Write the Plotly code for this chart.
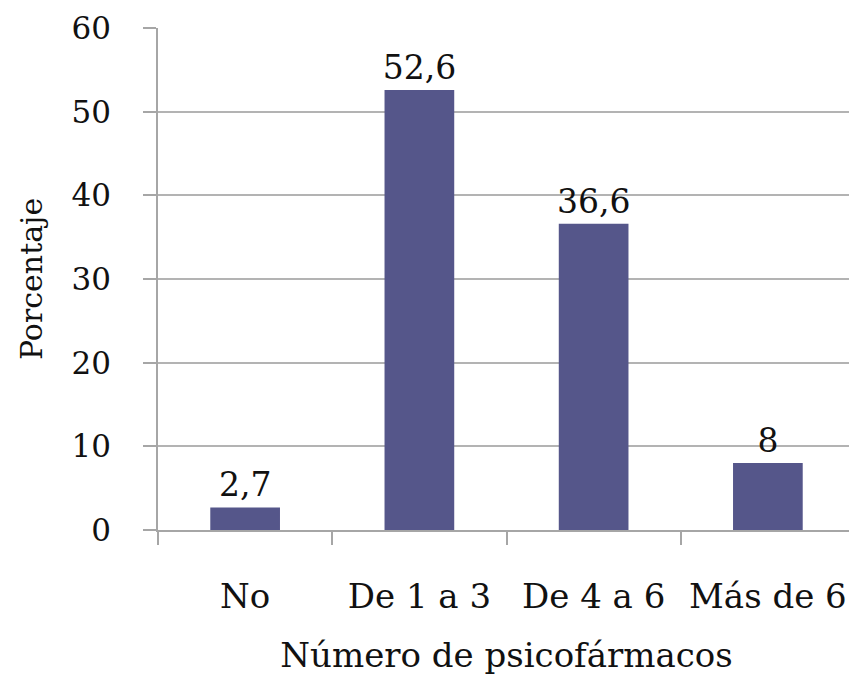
import plotly.graph_objects as go

categories = ["No", "De 1 a 3", "De 4 a 6", "Más de 6"]
values = [2.7, 52.6, 36.6, 8]
y_ticks = [0, 10, 20, 30, 40, 50, 60]

def fmt(v):
    s = ("%g" % v)
    return s.replace(".", ",")

labels = [fmt(v) for v in values]

FONT = "DejaVu Serif"

fig = go.Figure(go.Bar(
    x=categories, y=values, text=labels, textposition="outside",
    textfont=dict(family=FONT, size=33, color="#111111"),
    constraintext="none",
    marker=dict(color="#55568a", line=dict(width=0)),
    width=0.4, cliponaxis=False,
))

# page body has an 8px margin, so the figure is sized to fit the window
fig.update_layout(
    width=849, height=667,
    margin=dict(l=150, r=2, t=20, b=145),
    paper_bgcolor="white", plot_bgcolor="white",
    showlegend=False,
    font=dict(family=FONT, color="#111111"),
)
fig.update_yaxes(
    automargin=False,
    range=[0, 60], tickvals=y_ticks, ticktext=[str(t) for t in y_ticks],
    showgrid=True, gridcolor="#b3b3b3", gridwidth=1.5,
    showline=True, linecolor="#a6a6a6", linewidth=1.5,
    ticks="outside", ticklen=13, tickcolor="#a6a6a6", tickwidth=1.5,
    tickfont=dict(family=FONT, size=31, color="#111111"),
    ticklabelstandoff=26,
    zeroline=False,
    title=dict(text="Porcentaje", font=dict(family=FONT, size=30, color="#111111"), standoff=20),
)
fig.update_xaxes(
    automargin=False,
    showline=True, linecolor="#a6a6a6", linewidth=1.5,
    ticks="outside", tickson="boundaries", ticklen=13, tickcolor="#a6a6a6", tickwidth=1.5,
    tickfont=dict(family=FONT, size=34, color="#111111"),
    ticklabelstandoff=35,
    title=dict(text="Número de psicofármacos", font=dict(family=FONT, size=34, color="#111111"), standoff=36),
)

fig.write_html("out.html")
